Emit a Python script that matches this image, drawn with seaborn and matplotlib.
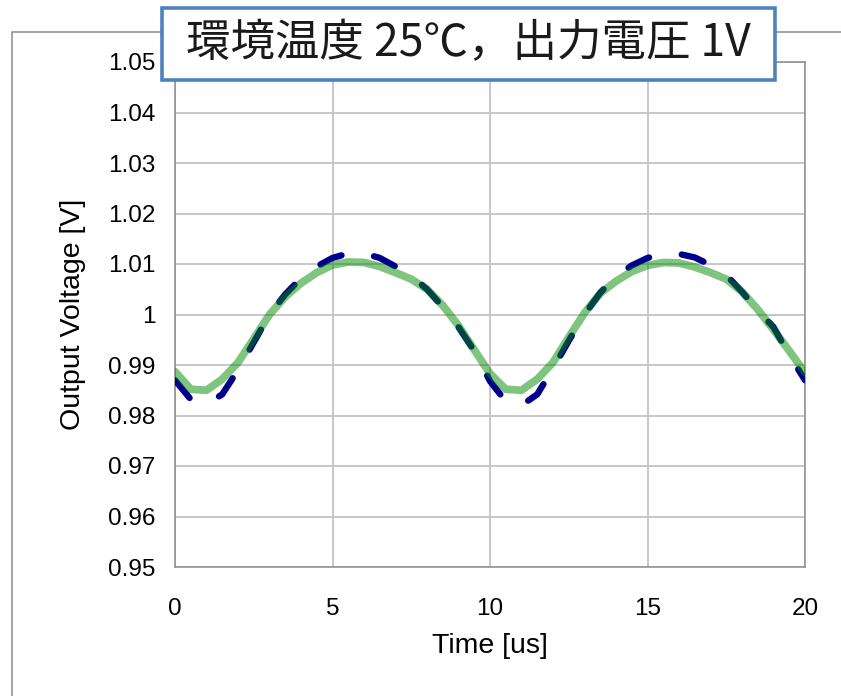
import matplotlib
matplotlib.use("Agg")
import matplotlib.pyplot as plt
from matplotlib import font_manager
from matplotlib.patches import Rectangle
import seaborn as sns
import pandas as pd

# Time axis [us]
time_us = [0.0, 0.5, 1.0, 1.5, 2.0, 2.5, 3.0, 3.5, 4.0, 4.5,
           5.0, 5.5, 6.0, 6.5, 7.0, 7.5, 8.0, 8.5, 9.0, 9.5,
           10.0, 10.5, 11.0, 11.5, 12.0, 12.5, 13.0, 13.5, 14.0, 14.5,
           15.0, 15.5, 16.0, 16.5, 17.0, 17.5, 18.0, 18.5, 19.0, 19.5, 20.0]

# Output voltage, solid green trace [V]
v_green = [0.9887, 0.9852, 0.9850, 0.9872, 0.9905, 0.9952, 1.0000, 1.0035, 1.0062, 1.0083,
           1.0098, 1.0104, 1.0103, 1.0095, 1.0083, 1.0070, 1.0050, 1.0018, 0.9978, 0.9930,
           0.9883, 0.9852, 0.9850, 0.9872, 0.9905, 0.9955, 1.0003, 1.0042, 1.0066, 1.0085,
           1.0097, 1.0103, 1.0102, 1.0094, 1.0083, 1.0070, 1.0045, 1.0010, 0.9970, 0.9928, 0.9885]

# Output voltage, dashed navy trace [V]
v_navy = [0.9870, 0.9832, 0.9822, 0.9842, 0.9890, 0.9945, 1.0000, 1.0040, 1.0072, 1.0095,
          1.0112, 1.0121, 1.0121, 1.0112, 1.0095, 1.0077, 1.0050, 1.0015, 0.9975, 0.9928,
          0.9868, 0.9828, 0.9820, 0.9842, 0.9893, 0.9948, 1.0000, 1.0043, 1.0076, 1.0097,
          1.0112, 1.0120, 1.0120, 1.0113, 1.0098, 1.0078, 1.0045, 1.0008, 0.9975, 0.9920, 0.9870]

x_ticks = [0, 5, 10, 15, 20]
y_ticks = [0.95, 0.96, 0.97, 0.98, 0.99, 1.00, 1.01, 1.02, 1.03, 1.04, 1.05]
y_tick_labels = ["0.95", "0.96", "0.97", "0.98", "0.99", "1", "1.01", "1.02", "1.03", "1.04", "1.05"]

title_text = "環境温度 25℃，出力電圧 1V"

sns.set_theme(style="white")

installed = {f.name for f in font_manager.fontManager.ttflist}
narrow = "Liberation Sans Narrow" if "Liberation Sans Narrow" in installed else "Liberation Sans"
plt.rcParams["font.family"] = [narrow, "DejaVu Sans"]

df = pd.DataFrame({"t": time_us, "green": v_green, "navy": v_navy})

W, H = 841, 696
fig = plt.figure(figsize=(W / 100, H / 100), dpi=100)
fig.patch.set_facecolor("white")

# outer chart-area frame (runs off the right and bottom edges)
fig.add_artist(Rectangle((12 / W, -0.05), 1.0, 1 - 32 / H + 0.05,
                         transform=fig.transFigure, fill=False,
                         edgecolor="#8c8c8c", linewidth=1.1, zorder=1))

ax = fig.add_axes([175 / W, 1 - 567 / H, (805 - 175) / W, (567 - 62) / H])
ax.set_facecolor("white")
ax.set_zorder(2)

sns.lineplot(data=df, x="t", y="navy", ax=ax, color="#00008b", linewidth=4.6,
             linestyle=(0, (3.6, 5.2)), dash_capstyle="round", zorder=3)
sns.lineplot(data=df, x="t", y="green", ax=ax, color="#008a00", alpha=0.5,
             linewidth=5.6, solid_capstyle="round", solid_joinstyle="round", zorder=4)

ax.set_xlim(0, 20)
ax.set_ylim(0.95, 1.05)
ax.set_xticks(x_ticks)
ax.set_yticks(y_ticks)
ax.set_yticklabels(y_tick_labels)
ax.grid(True, color="#c3c3c3", linewidth=1.3)
ax.tick_params(axis="both", length=0, labelsize=17.5, colors="black")
ax.tick_params(axis="x", pad=22)
ax.tick_params(axis="y", pad=14)
for s in ax.spines.values():
    s.set_visible(True)
    s.set_color("#8c8c8c")
    s.set_linewidth(1.1)

ax.set_xlabel("Time [us]", fontsize=20.5, labelpad=10, color="black")
ax.set_ylabel("Output Voltage [V]", fontsize=20.5, labelpad=16, color="black")

# title box
fig.add_artist(Rectangle((162 / W, 1 - 80 / H), (775 - 162) / W, (80 - 8) / H,
                         transform=fig.transFigure, facecolor="white",
                         edgecolor="#4f81bd", linewidth=2.6, zorder=10))
fig.text(468 / W, 1 - 43 / H, title_text, ha="center", va="center",
         fontsize=32, color="#1a1a1a", zorder=11,
         family=["Noto Sans CJK JP", "DejaVu Sans"])

fig.savefig("out.png", dpi=100, facecolor="white")
